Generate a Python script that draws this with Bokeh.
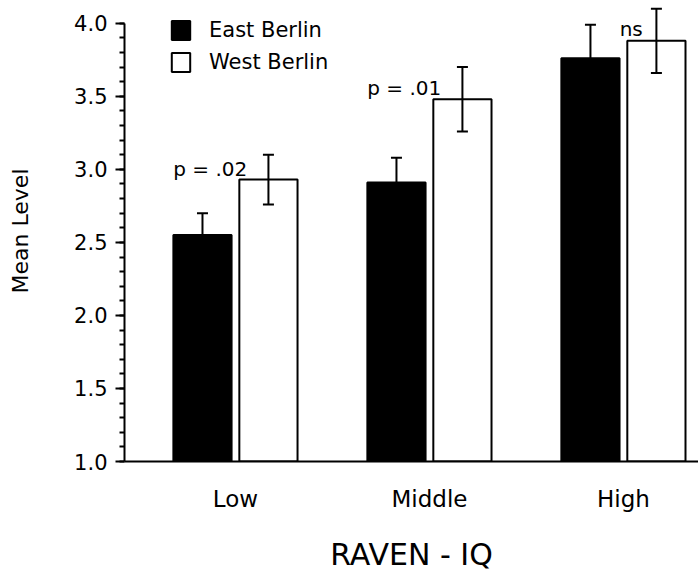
from bokeh.plotting import figure
from bokeh.models import (ColumnDataSource, Whisker, TeeHead, FixedTicker,
                          SingleIntervalTicker, Legend, LegendItem, PrintfTickFormatter)
from bokeh.embed import file_html
from bokeh.resources import INLINE
from bokeh.core.properties import value

# ---------------- data ----------------
groups = ["Low", "Middle", "High"]
east_means = [2.55, 2.91, 3.76]
west_means = [2.93, 3.48, 3.88]
east_err = [0.15, 0.17, 0.23]
west_err = [0.17, 0.22, 0.22]
p_labels = ["p = .02", "p = .01", "ns"]
series_names = ["East Berlin", "West Berlin"]

# ---------------- layout constants ----------------
FONT = "DejaVu Sans"
OFF = 0.17
BAR_W = 0.30
label_dx = [-0.13, -0.13, 0.04]
label_y = [3.0, 3.56, 3.96]

xpos = [i + 1 for i in range(len(groups))]

east_src = ColumnDataSource(dict(
    x=[x - OFF for x in xpos], top=east_means,
    upper=[m + e for m, e in zip(east_means, east_err)],
    lower=[m - e for m, e in zip(east_means, east_err)]))
west_src = ColumnDataSource(dict(
    x=[x + OFF for x in xpos], top=west_means,
    upper=[m + e for m, e in zip(west_means, west_err)],
    lower=[m - e for m, e in zip(west_means, west_err)]))
lab_src = ColumnDataSource(dict(
    x=[x + d for x, d in zip(xpos, label_dx)], y=label_y, text=p_labels))

p = figure(width=698, height=574, x_range=(0.428, 3.387), y_range=(1.0, 4.156),
           output_backend="svg", toolbar_location=None,
           min_border_left=124, min_border_right=0, min_border_top=0,
           min_border_bottom=111)
p.grid.visible = False
p.outline_line_color = None
p.background_fill_color = "white"
p.border_fill_color = "white"

east_r = p.vbar(x="x", top="top", bottom=1.0, width=BAR_W, source=east_src,
                fill_color="black", line_color="black", line_width=2)
west_r = p.vbar(x="x", top="top", bottom=1.0, width=BAR_W, source=west_src,
                fill_color="white", line_color="black", line_width=2)

for src in (east_src, west_src):
    w = Whisker(source=src, base="x", upper="upper", lower="lower",
                line_color="black", line_width=2, level="overlay",
                upper_head=TeeHead(size=11, line_width=2, line_color="black"),
                lower_head=TeeHead(size=11, line_width=2, line_color="black"))
    p.add_layout(w)

p.text(x="x", y="y", text="text", source=lab_src, text_align="center",
       text_baseline="alphabetic", text_font=value(FONT),
       text_font_size="20px", text_color="black")

# x axis
xa = p.xaxis[0]
xa.ticker = FixedTicker(ticks=xpos)
xa.major_label_overrides = {float(x): g for x, g in zip(xpos, groups)}
xa.major_tick_line_color = None
xa.major_tick_out = 0
xa.major_tick_in = 0
xa.minor_tick_line_color = None
xa.minor_tick_out = 0
xa.minor_tick_in = 0
xa.axis_line_width = 2
xa.axis_line_color = "black"
xa.major_label_text_font = FONT
xa.major_label_text_font_size = "23px"
xa.major_label_text_color = "black"
xa.major_label_standoff = 24
xa.axis_label = "RAVEN - IQ"
xa.axis_label_text_font = FONT
xa.axis_label_text_font_size = "30px"
xa.axis_label_text_font_style = "normal"
xa.axis_label_text_color = "black"
xa.axis_label_standoff = 22

# y axis
ya = p.yaxis[0]
ya.ticker = SingleIntervalTicker(interval=0.5, num_minor_ticks=5)
ya.formatter = PrintfTickFormatter(format="%.1f")
ya.bounds = (1.0, 4.0)
ya.axis_line_width = 2
ya.axis_line_color = "black"
ya.major_tick_out = 9
ya.major_tick_in = 0
ya.minor_tick_out = 5
ya.minor_tick_in = 0
ya.major_tick_line_width = 2
ya.minor_tick_line_width = 2
ya.major_tick_line_color = "black"
ya.minor_tick_line_color = "black"
ya.major_label_text_font = FONT
ya.major_label_text_font_size = "21px"
ya.major_label_text_color = "black"
ya.major_label_standoff = 8
ya.axis_label = "Mean Level"
ya.axis_label_text_font = FONT
ya.axis_label_text_font_size = "22px"
ya.axis_label_text_font_style = "normal"
ya.axis_label_text_color = "black"
ya.axis_label_standoff = 38

legend = Legend(items=[LegendItem(label=series_names[0], renderers=[east_r]),
                       LegendItem(label=series_names[1], renderers=[west_r])],
                location=(45, 387))
legend.border_line_color = None
legend.background_fill_alpha = 0
legend.padding = 0
legend.margin = 0
legend.spacing = 8
legend.glyph_width = 23
legend.glyph_height = 24
legend.label_height = 24
legend.label_standoff = 17
legend.label_text_font = FONT
legend.label_text_font_size = "21px"
legend.label_text_color = "black"
p.add_layout(legend)

open("out.html", "w").write(file_html(p, INLINE))
